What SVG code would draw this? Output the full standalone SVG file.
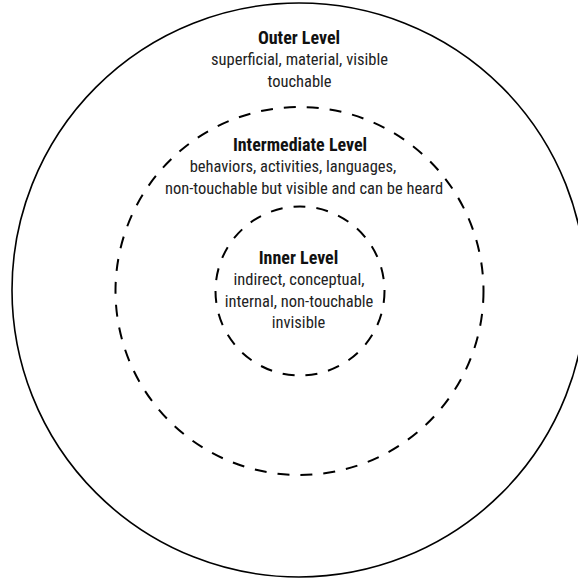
<svg xmlns="http://www.w3.org/2000/svg" width="578" height="578" viewBox="0 0 578 578">
<style>
text{font-family:"Liberation Sans Narrow","Roboto Condensed","Liberation Sans",sans-serif;font-size:16.5px;fill:#222;text-anchor:middle;font-stretch:condensed}
.t{font-weight:bold;font-size:18px;fill:#111}
.solid{fill:none;stroke:#000;stroke-width:1.6}
.dash{fill:none;stroke:#000;stroke-width:2;stroke-dasharray:12 11}
</style>
<rect width="578" height="578" fill="#fff"/>
<g id="outer">
<circle class="solid" cx="299" cy="290" r="287"/>
<text class="t" x="299" y="44">Outer Level</text>
<text x="299.5" y="65.3">superficial, material, visible</text>
<text x="299.5" y="86.6">touchable</text>
</g>
<g id="intermediate">
<circle class="dash" cx="299.5" cy="291" r="184"/>
<text class="t" x="300" y="151">Intermediate Level</text>
<text x="293" y="172.3">behaviors, activities, languages,</text>
<text x="304" y="193.6">non-touchable but visible and can be heard</text>
</g>
<g id="inner">
<circle class="dash" cx="300" cy="291" r="84.5"/>
<text class="t" x="298.5" y="264">Inner Level</text>
<text x="299" y="285.3">indirect, conceptual,</text>
<text x="299" y="306.6">internal, non-touchable</text>
<text x="298.5" y="328">invisible</text>
</g>
<g id="connectors"/>
</svg>
